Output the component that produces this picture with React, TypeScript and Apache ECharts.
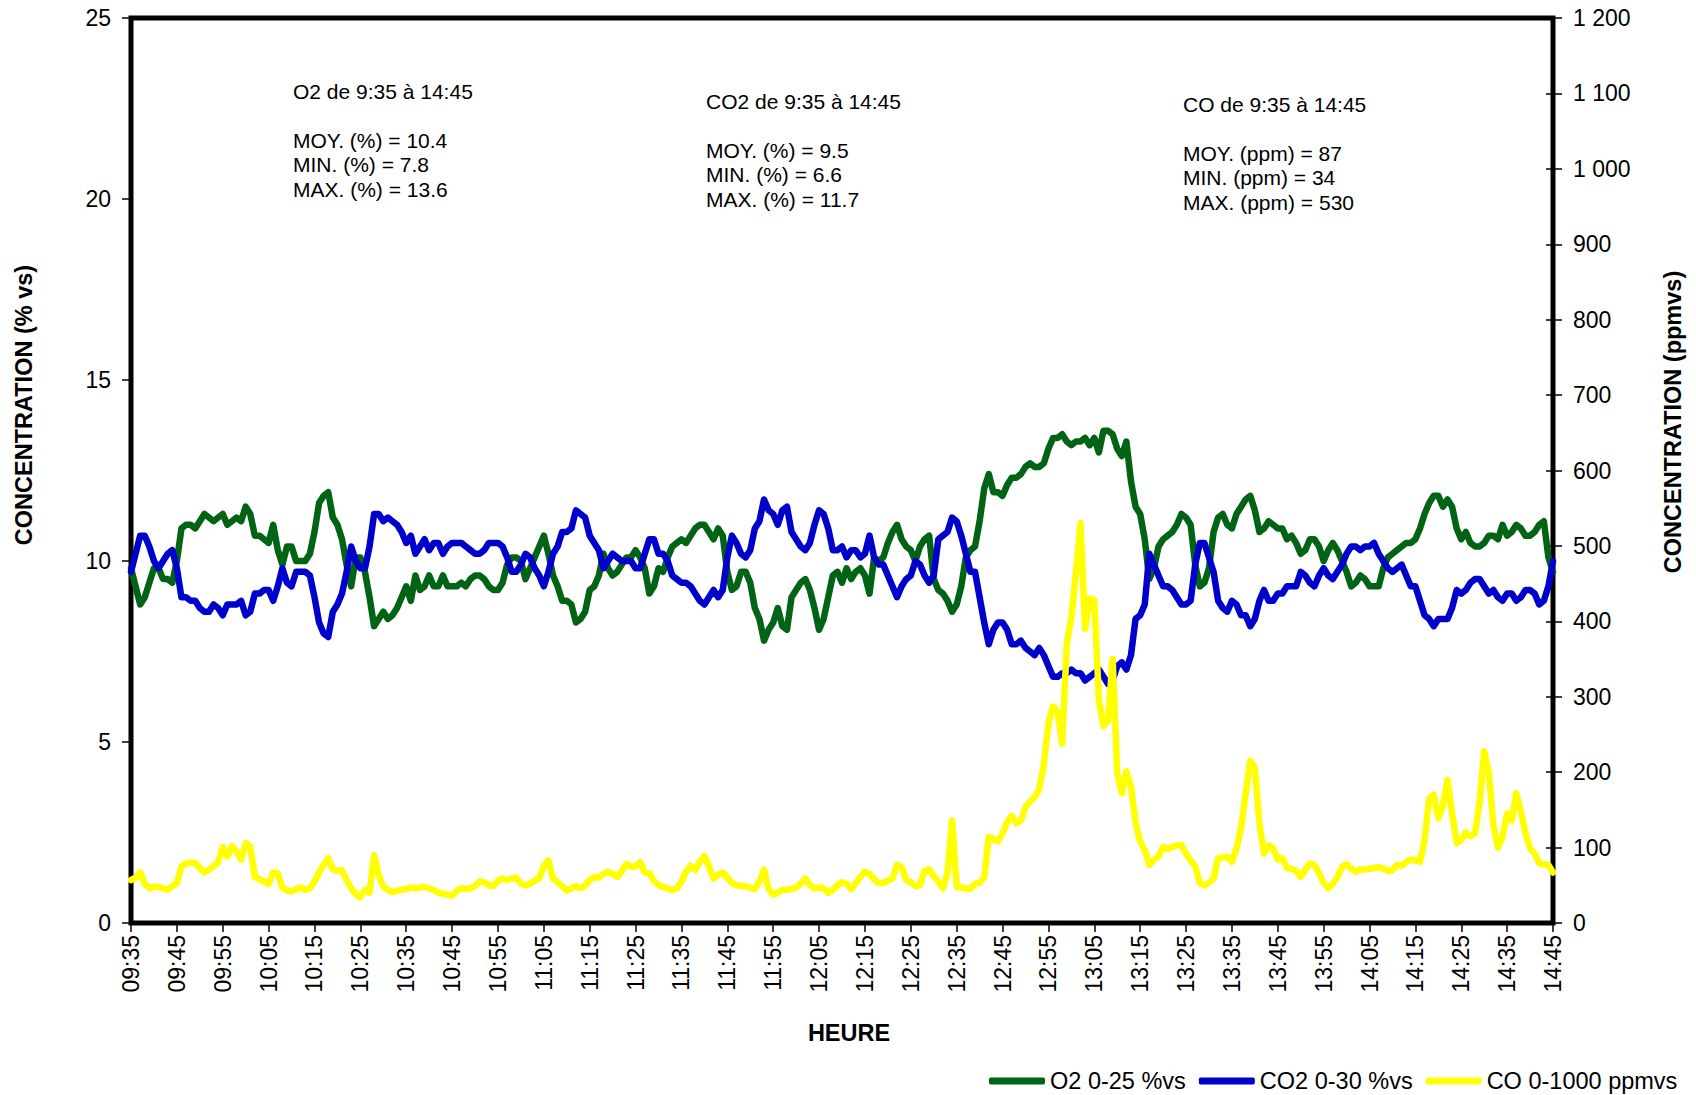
import React, { useEffect, useRef } from "react";
import * as echarts from "echarts";

// One reading per minute, 09:35 to 14:45
const START_TIME = "09:35";

// O2 concentration (% vs), left axis
const o2 = [
  9.8, 9.3, 8.8, 9.0, 9.4, 9.8, 9.8, 9.5, 9.5, 9.4,
  10.0, 10.9, 11.0, 11.0, 10.9, 11.1, 11.3, 11.2, 11.1, 11.2,
  11.3, 11.0, 11.1, 11.2, 11.1, 11.5, 11.3, 10.7, 10.7, 10.6,
  10.5, 11.0, 10.3, 9.9, 10.4, 10.4, 10.0, 10.0, 10.0, 10.2,
  10.8, 11.6, 11.8, 11.9, 11.2, 11.0, 10.6, 9.9, 9.3, 10.1,
  10.1, 9.7, 9.0, 8.2, 8.4, 8.6, 8.4, 8.5, 8.7, 9.0,
  9.3, 8.9, 9.6, 9.2, 9.3, 9.6, 9.3, 9.3, 9.6, 9.3,
  9.3, 9.3, 9.4, 9.3, 9.5, 9.6, 9.6, 9.5, 9.3, 9.2,
  9.2, 9.4, 9.9, 10.1, 10.1, 10.0, 9.5, 9.8, 10.1, 10.4,
  10.7, 10.2, 9.6, 9.3, 8.9, 8.9, 8.8, 8.3, 8.4, 8.6,
  9.2, 9.3, 9.6, 10.2, 9.8, 9.6, 9.7, 9.9, 10.1, 10.1,
  10.3, 10.1, 9.8, 9.1, 9.3, 9.8, 9.7, 10.1, 10.4, 10.5,
  10.6, 10.5, 10.7, 10.9, 11.0, 11.0, 10.8, 10.6, 10.9, 10.7,
  9.7, 9.2, 9.3, 9.7, 9.7, 9.4, 8.7, 8.4, 7.8, 8.1,
  8.3, 8.7, 8.2, 8.1, 9.0, 9.2, 9.4, 9.5, 9.2, 8.7,
  8.1, 8.4, 9.0, 9.6, 9.7, 9.4, 9.8, 9.5, 9.7, 9.8,
  9.6, 9.1, 10.1, 10.0, 10.1, 10.5, 10.8, 11.0, 10.6, 10.4,
  10.3, 10.0, 10.4, 10.6, 10.7, 9.5, 9.2, 9.1, 8.9, 8.6,
  8.8, 9.3, 10.1, 10.3, 10.4, 11.1, 12.0, 12.4, 11.9, 11.9,
  11.8, 12.1, 12.3, 12.3, 12.4, 12.6, 12.7, 12.6, 12.6, 12.7,
  13.1, 13.4, 13.4, 13.5, 13.3, 13.2, 13.3, 13.3, 13.4, 13.2,
  13.4, 13.0, 13.6, 13.6, 13.5, 13.1, 12.9, 13.3, 12.2, 11.5,
  11.3, 10.6, 9.5, 9.8, 10.4, 10.6, 10.7, 10.8, 11.0, 11.3,
  11.2, 11.0, 9.9, 9.3, 9.4, 9.8, 10.8, 11.2, 11.3, 11.0,
  10.9, 11.3, 11.5, 11.7, 11.8, 11.4, 10.8, 10.9, 11.1, 11.0,
  10.9, 10.9, 10.6, 10.7, 10.5, 10.2, 10.3, 10.6, 10.6, 10.4,
  10.0, 10.3, 10.5, 10.3, 10.0, 9.7, 9.3, 9.4, 9.6, 9.5,
  9.3, 9.3, 9.3, 9.8, 10.1, 10.2, 10.3, 10.4, 10.5, 10.5,
  10.6, 10.9, 11.3, 11.6, 11.8, 11.8, 11.5, 11.7, 11.5, 10.9,
  10.6, 10.8, 10.5, 10.4, 10.4, 10.5, 10.7, 10.7, 10.6, 11.0,
  10.7, 10.8, 11.0, 10.9, 10.7, 10.7, 10.8, 11.0, 11.1, 10.1,
  9.7,
];

// CO2 concentration (% vs), left axis
const co2 = [
  9.7, 10.2, 10.7, 10.7, 10.4, 10.0, 9.8, 10.0, 10.2, 10.3,
  9.8, 9.0, 9.0, 8.9, 8.9, 8.7, 8.6, 8.6, 8.8, 8.7,
  8.5, 8.8, 8.8, 8.8, 8.9, 8.5, 8.6, 9.1, 9.1, 9.2,
  9.2, 8.9, 9.3, 9.8, 9.4, 9.3, 9.7, 9.7, 9.7, 9.6,
  9.0, 8.3, 8.0, 7.9, 8.6, 8.8, 9.1, 9.7, 10.4, 10.0,
  9.8, 9.8, 10.4, 11.3, 11.3, 11.1, 11.2, 11.1, 11.0, 10.8,
  10.5, 10.7, 10.2, 10.4, 10.6, 10.3, 10.5, 10.5, 10.2, 10.4,
  10.5, 10.5, 10.5, 10.4, 10.3, 10.2, 10.2, 10.3, 10.5, 10.5,
  10.5, 10.4, 10.1, 9.7, 9.7, 9.9, 10.2, 10.1, 9.8, 9.6,
  9.3, 9.7, 10.2, 10.4, 10.8, 10.8, 10.9, 11.4, 11.3, 11.2,
  10.7, 10.5, 10.3, 9.8, 10.0, 10.2, 10.1, 10.0, 10.0, 10.0,
  9.8, 9.8, 10.2, 10.6, 10.6, 10.2, 10.2, 10.0, 9.6, 9.5,
  9.4, 9.4, 9.3, 9.1, 8.9, 8.8, 9.0, 9.2, 9.0, 9.2,
  10.1, 10.7, 10.5, 10.2, 10.1, 10.3, 10.9, 11.1, 11.7, 11.4,
  11.3, 11.0, 11.4, 11.5, 10.8, 10.6, 10.4, 10.3, 10.5, 11.0,
  11.4, 11.3, 10.9, 10.3, 10.3, 10.4, 10.1, 10.3, 10.3, 10.1,
  10.2, 10.7, 10.1, 9.9, 9.9, 9.6, 9.3, 9.0, 9.3, 9.5,
  9.6, 10.0, 9.9, 9.6, 9.4, 9.6, 10.6, 10.7, 10.8, 11.2,
  11.1, 10.7, 10.2, 9.7, 9.7, 9.0, 8.3, 7.7, 8.1, 8.3,
  8.3, 8.1, 7.7, 7.7, 7.8, 7.6, 7.5, 7.4, 7.6, 7.4,
  7.1, 6.8, 6.8, 6.9, 6.9, 7.0, 6.9, 6.9, 6.7, 6.8,
  6.9, 7.0, 6.8, 6.6, 6.7, 7.1, 7.2, 7.0, 7.4, 8.4,
  8.5, 8.8, 10.2, 9.9, 9.6, 9.3, 9.3, 9.2, 9.0, 8.8,
  8.8, 8.9, 9.9, 10.5, 10.5, 10.1, 9.7, 8.9, 8.7, 8.6,
  8.9, 8.8, 8.5, 8.5, 8.2, 8.4, 8.9, 9.2, 8.9, 8.9,
  9.1, 9.1, 9.3, 9.3, 9.3, 9.7, 9.6, 9.4, 9.3, 9.6,
  9.8, 9.6, 9.5, 9.7, 9.9, 10.2, 10.4, 10.4, 10.3, 10.4,
  10.4, 10.5, 10.2, 10.0, 9.8, 9.7, 9.8, 9.9, 9.6, 9.3,
  9.3, 8.9, 8.5, 8.4, 8.2, 8.4, 8.4, 8.4, 8.7, 9.2,
  9.1, 9.2, 9.4, 9.5, 9.5, 9.3, 9.1, 9.2, 9.0, 8.9,
  9.1, 9.1, 8.9, 9.0, 9.2, 9.2, 9.1, 8.8, 8.9, 9.3,
  10.0,
];

// CO concentration (ppmvs), right axis
const co = [
  57, 60, 67, 52, 46, 48, 48, 46, 44, 49,
  53, 75, 79, 80, 80, 73, 67, 71, 75, 81,
  101, 88, 102, 95, 84, 106, 101, 61, 58, 55,
  52, 67, 66, 47, 43, 42, 45, 47, 44, 46,
  55, 67, 77, 86, 71, 69, 70, 57, 46, 38,
  34, 44, 40, 90, 64, 48, 44, 41, 43, 44,
  45, 47, 46, 47, 48, 46, 44, 40, 39, 38,
  36, 43, 46, 45, 46, 49, 55, 54, 50, 49,
  56, 59, 57, 59, 60, 52, 50, 52, 56, 59,
  76, 83, 59, 54, 49, 43, 46, 49, 46, 50,
  57, 61, 60, 65, 68, 65, 61, 69, 78, 75,
  75, 81, 67, 66, 56, 50, 48, 46, 44, 46,
  55, 68, 76, 70, 81, 89, 75, 59, 64, 67,
  60, 53, 50, 49, 49, 47, 45, 55, 71, 45,
  38, 40, 44, 44, 45, 47, 52, 59, 50, 46,
  47, 46, 40, 44, 50, 54, 52, 45, 53, 61,
  68, 65, 58, 53, 53, 56, 59, 77, 74, 57,
  54, 49, 50, 69, 71, 62, 55, 46, 67, 136,
  48, 47, 46, 45, 52, 53, 61, 114, 111, 108,
  119, 134, 142, 132, 136, 154, 161, 167, 178, 210,
  265, 287, 280, 238, 370, 406, 465, 530, 390, 430,
  428, 296, 261, 268, 350, 199, 172, 201, 181, 132,
  108, 97, 77, 84, 88, 101, 98, 101, 103, 103,
  92, 83, 75, 53, 50, 53, 59, 86, 87, 88,
  81, 99, 126, 172, 215, 206, 132, 92, 103, 99,
  84, 86, 73, 72, 69, 61, 71, 79, 77, 66,
  53, 46, 52, 61, 74, 78, 72, 68, 71, 71,
  72, 73, 74, 72, 69, 70, 77, 76, 81, 84,
  83, 81, 110, 165, 170, 139, 156, 190, 145, 106,
  110, 120, 115, 119, 161, 228, 200, 130, 100, 114,
  145, 136, 172, 148, 119, 99, 92, 79, 78, 77,
  67,
];

const seriesNames = ["O2 0-25 %vs", "CO2 0-30 %vs", "CO 0-1000 ppmvs"];
const seriesColors = ["#006414", "#0000CC", "#FFFF00"];

const statBlocks = [
  {
    title: "O2 de 9:35 à 14:45",
    lines: ["MOY. (%) = 10.4", "MIN. (%) = 7.8", "MAX. (%) = 13.6"],
  },
  {
    title: "CO2 de 9:35 à 14:45",
    lines: ["MOY. (%) = 9.5", "MIN. (%) = 6.6", "MAX. (%) = 11.7"],
  },
  {
    title: "CO de 9:35 à 14:45",
    lines: ["MOY. (ppm) = 87", "MIN. (ppm) = 34", "MAX. (ppm) = 530"],
  },
];
const statPositions = [
  { x: 293, titleY: 91.5, linesTop: 128.5 },
  { x: 706, titleY: 101.5, linesTop: 138.5 },
  { x: 1183, titleY: 104.5, linesTop: 141.5 },
];

const FONT = '"Liberation Sans", Arial, Helvetica, sans-serif';

function minuteLabels(start: string, count: number): string[] {
  const [h, m] = start.split(":").map(Number);
  const base = h * 60 + m;
  const out: string[] = [];
  for (let i = 0; i < count; i++) {
    const t = base + i;
    const hh = Math.floor(t / 60);
    const mm = t % 60;
    out.push(`${String(hh).padStart(2, "0")}:${String(mm).padStart(2, "0")}`);
  }
  return out;
}

const times = minuteLabels(START_TIME, o2.length);

function spaced(v: number): string {
  return String(v).replace(/\B(?=(\d{3})+(?!\d))/g, " ");
}

export default function App() {
  const ref = useRef<HTMLDivElement>(null);

  useEffect(() => {
    if (!ref.current) return;
    const chart = echarts.init(ref.current, null, { renderer: "svg" });

    const tickStyle = { color: "#000", width: 1.5 };
    const labelStyle = { color: "#000", fontSize: 23, fontFamily: FONT };

    const graphics: any[] = [];
    statBlocks.forEach((b, i) => {
      const p = statPositions[i];
      graphics.push({
        type: "text",
        x: p.x,
        y: p.titleY,
        style: {
          text: b.title,
          fontSize: 21,
          fontFamily: FONT,
          fill: "#000",
          verticalAlign: "middle",
        },
      });
      graphics.push({
        type: "text",
        x: p.x,
        y: p.linesTop,
        style: {
          text: b.lines.join("\n"),
          fontSize: 21,
          fontFamily: FONT,
          lineHeight: 24.2,
          fill: "#000",
          verticalAlign: "top",
        },
      });
    });

    const titleStyle = {
      fontSize: 23.5,
      fontWeight: "bold",
      fontFamily: FONT,
      fill: "#000",
      align: "center",
      verticalAlign: "middle",
    };
    graphics.push(
      {
        type: "text",
        x: 24,
        y: 405,
        rotation: Math.PI / 2,
        style: { ...titleStyle, text: "CONCENTRATION (% vs)" },
      },
      {
        type: "text",
        x: 1673,
        y: 422,
        rotation: Math.PI / 2,
        style: { ...titleStyle, text: "CONCENTRATION (ppmvs)" },
      },
      {
        type: "text",
        x: 849,
        y: 1033,
        style: { ...titleStyle, text: "HEURE" },
      }
    );

    const seriesData = [o2, co2, co];

    chart.setOption({
      animation: false,
      backgroundColor: "#fff",
      grid: {
        left: 131,
        right: 143,
        top: 18,
        bottom: 172,
        show: true,
        borderColor: "#000",
        borderWidth: 5,
        backgroundColor: "transparent",
      },
      legend: {
        data: seriesNames,
        left: 984,
        top: 1064,
        icon: "roundRect",
        itemWidth: 56,
        itemHeight: 7,
        itemGap: 13,
        textStyle: { color: "#000", fontSize: 23.5, fontFamily: FONT },
      },
      xAxis: {
        type: "category",
        data: times,
        boundaryGap: false,
        axisLine: { show: false },
        axisTick: { show: true, interval: 9, length: 9, lineStyle: tickStyle },
        axisLabel: { ...labelStyle, interval: 9, rotate: 90, margin: 12 },
        splitLine: { show: false },
      },
      yAxis: [
        {
          type: "value",
          min: 0,
          max: 25,
          interval: 5,
          position: "left",
          axisLine: { show: false },
          axisTick: { show: true, length: 9, lineStyle: tickStyle },
          axisLabel: { ...labelStyle, margin: 20 },
          splitLine: { show: false },
        },
        {
          type: "value",
          min: 0,
          max: 1200,
          interval: 100,
          position: "right",
          axisLine: { show: false },
          axisTick: { show: true, length: 9, lineStyle: tickStyle },
          axisLabel: { ...labelStyle, margin: 20, formatter: (v: number) => spaced(v) },
          splitLine: { show: false },
        },
        {
          type: "value",
          min: 0,
          max: 1200,
          interval: 100,
          position: "right",
          axisLine: { show: false },
          axisTick: { show: true, inside: true, length: 7, lineStyle: tickStyle },
          axisLabel: { show: false },
          splitLine: { show: false },
        },
      ],
      series: seriesNames.map((name, i) => ({
        name,
        type: "line",
        yAxisIndex: i === 2 ? 1 : 0,
        data: seriesData[i],
        showSymbol: false,
        symbol: "none",
        lineStyle: { color: seriesColors[i], width: 6.5, cap: "round", join: "round" },
        itemStyle: { color: seriesColors[i] },
      })),
      graphic: graphics,
    });

    return () => chart.dispose();
  }, []);

  return (
    <div
      ref={ref}
      style={{ position: "fixed", left: 0, top: 0, width: 1696, height: 1095, background: "#fff" }}
    />
  );
}
